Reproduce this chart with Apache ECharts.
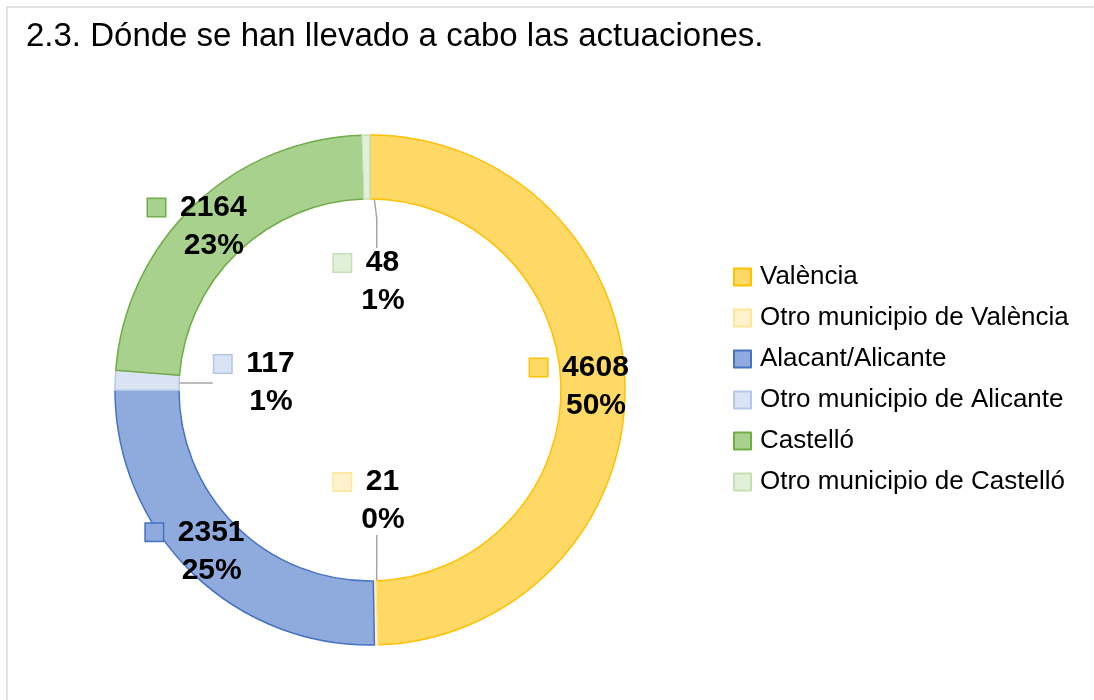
<!DOCTYPE html>
<html>
<head>
<meta charset="utf-8">
<script src="https://cdn.jsdelivr.net/npm/echarts@6/dist/echarts.min.js"></script>
<style>
  html, body { margin: 0; padding: 0; background: #fff; }
  #main { width: 1094px; height: 700px; }
</style>
</head>
<body>
<div id="main"></div>
<script>
// datos del gráfico
const categories = [
  "València",
  "Otro municipio de València",
  "Alacant/Alicante",
  "Otro municipio de Alicante",
  "Castelló",
  "Otro municipio de Castelló",
];
const values = [4608, 21, 2351, 117, 2164, 48];

const fillColors = ["#FFD966", "#FFF2CC", "#8FAADC", "#DAE3F3", "#A9D18E", "#E2F0D9"];
const borderColors = ["#FFC000", "#FFE699", "#4472C4", "#B4C7E7", "#70AD47", "#C5E0B4"];

// etiquetas pequeñas movidas hacia el centro (como en Excel)
const movedLabels = { 1: [383, 501], 3: [271, 383], 5: [383, 282] };

const total = values.reduce((a, b) => a + b, 0);

const rich = {
  g: { width: 15 },
  s: { width: 33 },
  n: { fontSize: 30, fontWeight: "bold", color: "#000", lineHeight: 38, fontFamily: "Liberation Sans" },
};
fillColors.forEach((c, i) => {
  rich["m" + i] = {
    width: 17,
    height: 17,
    backgroundColor: c,
    borderColor: borderColors[i],
    borderWidth: 1.5,
  };
});

const seriesData = values.map((v, i) => {
  const item = {
    name: categories[i],
    value: v,
    itemStyle: { color: fillColors[i], borderColor: borderColors[i], borderWidth: 1.5 },
  };
  if (movedLabels[i]) {
    item.label = { position: "outside" };
    item.labelLine = { show: true, lineStyle: { color: "#A6A6A6", width: 1.5 } };
  }
  return item;
});

const chart = echarts.init(document.getElementById("main"));
chart.setOption({
  animation: false,
  backgroundColor: "#fff",
  title: {
    text: "2.3. Dónde se han llevado a cabo las actuaciones.",
    left: 21,
    top: 15,
    textStyle: { fontFamily: "Liberation Sans", fontSize: 33, fontWeight: "normal", color: "#000" },
  },
  graphic: [
    {
      type: "rect",
      shape: { x: 7, y: 7, width: 1200, height: 800 },
      style: { fill: null, stroke: "#D9D9D9", lineWidth: 1.5 },
      silent: true,
    },
  ],
  legend: {
    orient: "vertical",
    left: 733,
    top: 264,
    padding: 0,
    icon: "rect",
    itemWidth: 17,
    itemHeight: 17,
    itemGap: 15,
    textStyle: {
      fontFamily: "Liberation Sans",
      fontSize: 26,
      lineHeight: 26,
      color: "#000",
      padding: [0, 0, 0, 4],
    },
    data: categories,
  },
  series: [
    {
      type: "pie",
      center: [370, 390],
      radius: [191, 255],
      startAngle: 90,
      clockwise: true,
      avoidLabelOverlap: false,
      emphasis: { disabled: true },
      label: {
        show: true,
        position: "inside",
        align: "center",
        formatter: (p) => {
          const pct = Math.round((p.value / total) * 100);
          return "{m" + p.dataIndex + "|}{g|}{n|" + p.value + "}{s|}\n{s|}{n|" + pct + "%}{s|}";
        },
        rich: rich,
      },
      labelLine: { show: false },
      labelLayout: (params) => {
        const pos = movedLabels[params.dataIndex];
        if (!pos) return {};
        return { x: pos[0], y: pos[1], align: "center", verticalAlign: "middle" };
      },
      data: seriesData,
    },
  ],
});
</script>
</body>
</html>
